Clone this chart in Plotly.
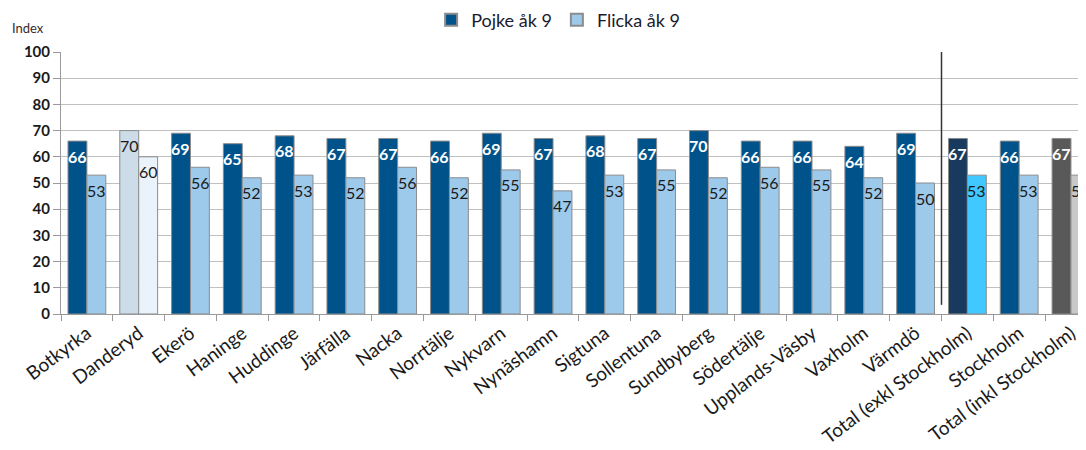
import plotly.graph_objects as go

categories = ["Botkyrka", "Danderyd", "Ekerö", "Haninge", "Huddinge", "Järfälla", "Nacka",
              "Norrtälje", "Nykvarn", "Nynäshamn", "Sigtuna", "Sollentuna", "Sundbyberg",
              "Södertälje", "Upplands-Väsby", "Vaxholm", "Värmdö", "Total (exkl Stockholm)",
              "Stockholm", "Total (inkl Stockholm)"]
pojke = [66, 70, 69, 65, 68, 67, 67, 66, 69, 67, 68, 67, 70, 66, 66, 64, 69, 67, 66, 67]
flicka = [53, 60, 56, 52, 53, 52, 56, 52, 55, 47, 53, 55, 52, 56, 55, 52, 50, 53, 53, 53]
series_names = ["Pojke åk 9", "Flicka åk 9"]
y_ticks = list(range(0, 101, 10))

DARK = "#00538A"
LIGHT = "#9DC9EB"

pojke_colors = [DARK] * len(categories)
flicka_colors = [LIGHT] * len(categories)
pojke_text_col = ["white"] * len(categories)
pojke_text_w = ["bold"] * len(categories)
flicka_text_col = ["#1a1a1a"] * len(categories)

# special colours
i_d = categories.index("Danderyd")
pojke_colors[i_d] = "#CCDCE8"; flicka_colors[i_d] = "#EAF3FB"
pojke_text_col[i_d] = "#1a1a1a"; pojke_text_w[i_d] = "normal"
i_te = categories.index("Total (exkl Stockholm)")
pojke_colors[i_te] = "#173A5E"; flicka_colors[i_te] = "#40C8FF"
i_ti = categories.index("Total (inkl Stockholm)")
pojke_colors[i_ti] = "#595959"; flicka_colors[i_ti] = "#C8C8C8"

FONT = "Lato"

fig = go.Figure()
fig.add_trace(go.Bar(
    x=categories, y=pojke, name=series_names[0],
    marker=dict(color=pojke_colors, line=dict(color="#8C8C8C", width=1)),
    cliponaxis=True,
))
fig.add_trace(go.Bar(
    x=categories, y=flicka, name=series_names[1],
    marker=dict(color=flicka_colors, line=dict(color="#8C8C8C", width=1)),
    cliponaxis=True,
))

# value labels, placed near the top inside each bar
for cat, v, col, w in zip(categories, pojke, pojke_text_col, pojke_text_w):
    fig.add_annotation(x=cat, y=v, text=str(v), showarrow=False, xref="x", yref="y",
                       xshift=-9.6, yshift=-15, yanchor="middle",
                       font=dict(family=FONT, size=16, color=col, weight=w))
for cat, v, col in zip(categories, flicka, flicka_text_col):
    fig.add_annotation(x=cat, y=v, text=str(v), showarrow=False, xref="x", yref="y",
                       xshift=9.6, yshift=-15, yanchor="middle",
                       font=dict(family=FONT, size=16, color=col))

# separator line between Värmdö and totals
fig.add_shape(type="line", xref="x", yref="y", x0=16.5, x1=16.5, y0=3.5, y1=100,
              line=dict(color="#333333", width=1.5))

fig.add_annotation(text="Index", xref="paper", yref="paper", x=-0.05, y=1.092,
                   xanchor="left", yanchor="middle", showarrow=False,
                   font=dict(family=FONT, size=13, color="#3a2a2a"))

# page body has an 8px default margin, so the figure is sized/offset accordingly
fig.update_layout(
    width=1078, height=442,
    margin=dict(l=53, r=0, t=44, b=136, autoexpand=False),
    paper_bgcolor="white", plot_bgcolor="white",
    barmode="group", bargap=0.27, bargroupgap=0,
    font=dict(family=FONT, color="#1a1a1a"),
    legend=dict(orientation="h", x=0.485, xanchor="center", y=1.122, yanchor="middle",
                font=dict(family=FONT, size=18, color="#1a1a2e"), itemsizing="constant",
                traceorder="normal"),
    showlegend=True,
)
fig.update_xaxes(
    range=[-0.5, 19.29], tickangle=-37, tickfont=dict(family=FONT, size=19, color="#1a1a1a"),
    ticks="outside", tickson="boundaries", ticklen=6, tickcolor="#999999",
    showline=True, linecolor="#999999", linewidth=1, showgrid=False, automargin=False,
)
fig.update_yaxes(
    range=[0, 100], tickvals=y_ticks, tickfont=dict(family=FONT, size=15, color="#1a1a1a", weight="bold"),
    ticks="outside", ticklen=7, tickcolor="#999999",
    showline=True, linecolor="#999999", linewidth=1,
    showgrid=True, gridcolor="#C0C0C0", gridwidth=1, zeroline=False, automargin=False,
)

fig.write_html("out.html")
